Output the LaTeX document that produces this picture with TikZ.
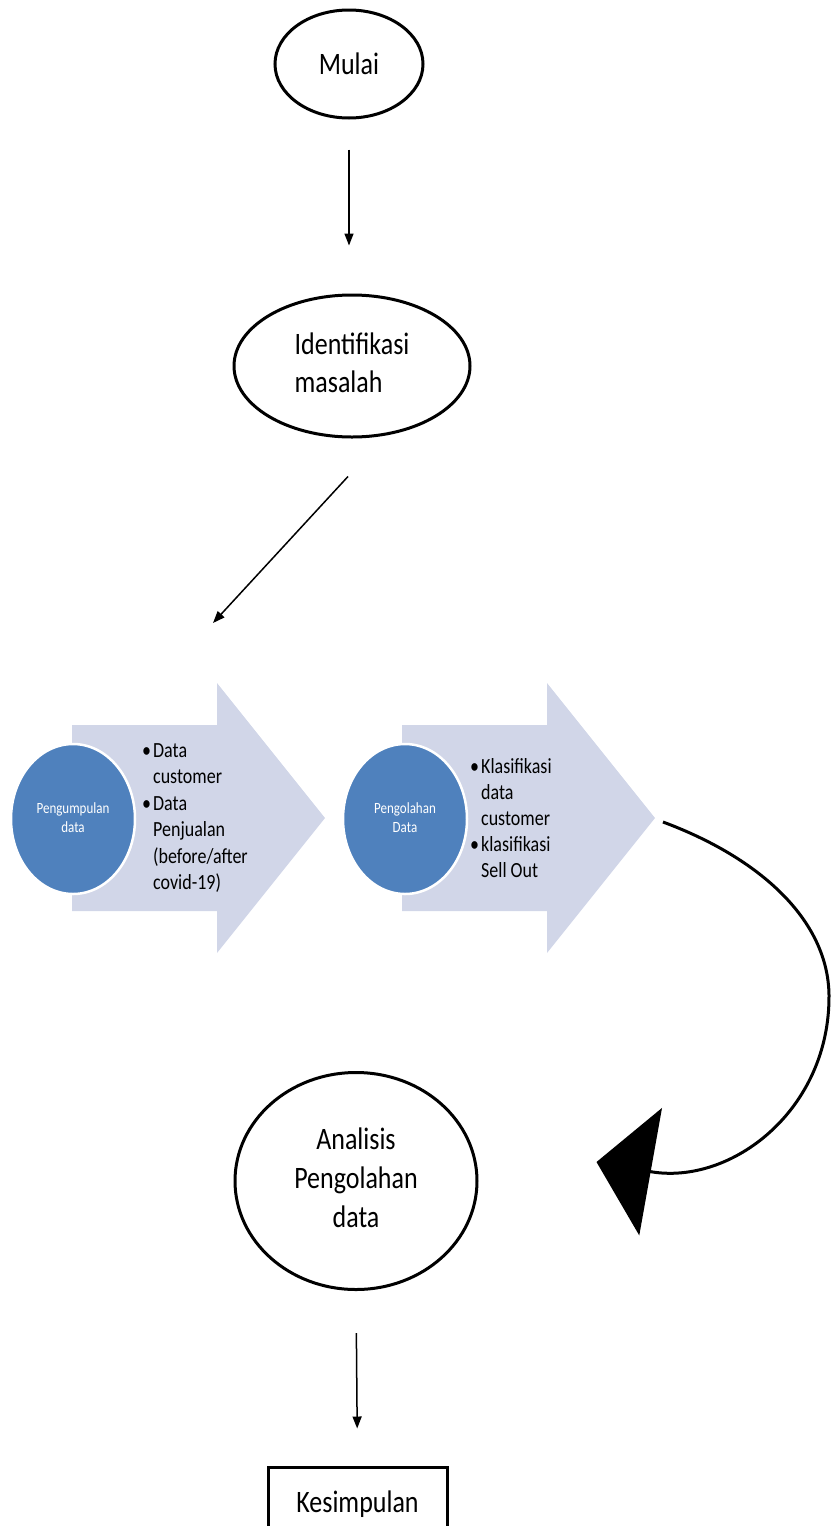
\documentclass[tikz,border=0pt]{standalone}
\usepackage{fontspec}
\usepackage{graphicx}
\setmainfont{Carlito}
\usetikzlibrary{arrows.meta,shapes.geometric,calc}
\definecolor{cblue}{RGB}{79,129,189}
\definecolor{cchev}{RGB}{209,214,232}
\newcommand{\vstretch}[1]{\scalebox{1}[1.2]{#1}}
\begin{document}
\begin{tikzpicture}[x=1pt,y=-1pt,
  oval/.style={ellipse,draw=black,line width=3pt,inner sep=0pt},
  arr/.style={line width=1.5pt,-{Triangle[length=12pt,width=9pt]}},
  bigarr/.style={line width=3pt,-{Triangle[length=55pt,width=129pt]}},
  chev/.style={fill=cchev},
  disc/.style={ellipse,fill=cblue,draw=white,line width=2.5pt,inner sep=0pt,minimum width=124pt,minimum height=150pt},
  lbl/.style={inner sep=0pt}]
\useasboundingbox (0,0) rectangle (830,1526);

% main ovals
\node[oval,minimum width=148pt,minimum height=108pt] (mulai) at (349,64)
  {\vstretch{\fontsize{26}{32}\selectfont Mulai}};
\node[oval,minimum width=236pt,minimum height=142pt] (ident) at (352,366)
  {\vstretch{\fontsize{26}{31.7}\selectfont\begin{tabular}{@{}l@{}}Identifikasi\\masalah\end{tabular}}};
\node[oval,minimum width=242pt,minimum height=217pt] (anal) at (356,1181)
  {\vstretch{\fontsize{26}{32.5}\selectfont\begin{tabular}{@{}c@{}}Analisis\\Pengolahan\\data\end{tabular}}};
\node[draw=black,line width=3pt,minimum width=179pt,minimum height=75pt,inner sep=0pt] (kes) at (357.5,1504.5)
  {\vstretch{\fontsize{26}{32}\selectfont Kesimpulan}};

% chevrons
\fill[chev] (72,725) -- (217,725) -- (217,683) -- (325,818) -- (217,953) -- (217,911) -- (72,911) -- cycle;
\coordinate (chevAtop) at (217,683);
\fill[chev] (402,725) -- (547,725) -- (547,683) -- (655,818) -- (547,953) -- (547,911) -- (402,911) -- cycle;
\coordinate (chevBtip) at (655,818);

% discs
\node[disc] (discA) at (73,819)
  {\vstretch{\color{white}\fontsize{13}{16}\selectfont\begin{tabular}{@{}c@{}}Pengumpulan\\data\end{tabular}}};
\node[disc] (discB) at (405,819)
  {\vstretch{\color{white}\fontsize{13}{16}\selectfont\begin{tabular}{@{}c@{}}Pengolahan\\Data\end{tabular}}};

% bullet texts
\node[lbl,anchor=west] (txtA) at (142,818)
  {\vstretch{\fontsize{18}{22.1}\selectfont\begin{tabular}{@{}l@{\hspace{2pt}}l@{}}\textbullet&Data\\&customer\\\textbullet&Data\\&Penjualan\\&(before/after\\&covid-19)\end{tabular}}};
\node[lbl,anchor=west] (txtB) at (470,820)
  {\vstretch{\fontsize{18}{21.7}\selectfont\begin{tabular}{@{}l@{\hspace{2pt}}l@{}}\textbullet&Klasifikasi\\&data\\&customer\\\textbullet&klasifikasi\\&Sell Out\end{tabular}}};

% connectors
\draw[arr,shorten <=30pt,shorten >=48pt] (mulai.south) -- (mulai.south |- ident.north);
\draw[arr] ([shift={(-4,38)}]ident.south) -- ([shift={(-4,-60)}]chevAtop);
\draw[bigarr] ([shift={(8,4)}]chevBtip) .. controls (760,858) and (828,920) .. (829,995)
  .. controls (830,1110) and (731,1186) .. ([shift={(118,-19)}]anal.east);
\draw[arr,shorten <=42pt,shorten >=37pt] (anal.south) -- (kes.north);
\end{tikzpicture}
\end{document}
